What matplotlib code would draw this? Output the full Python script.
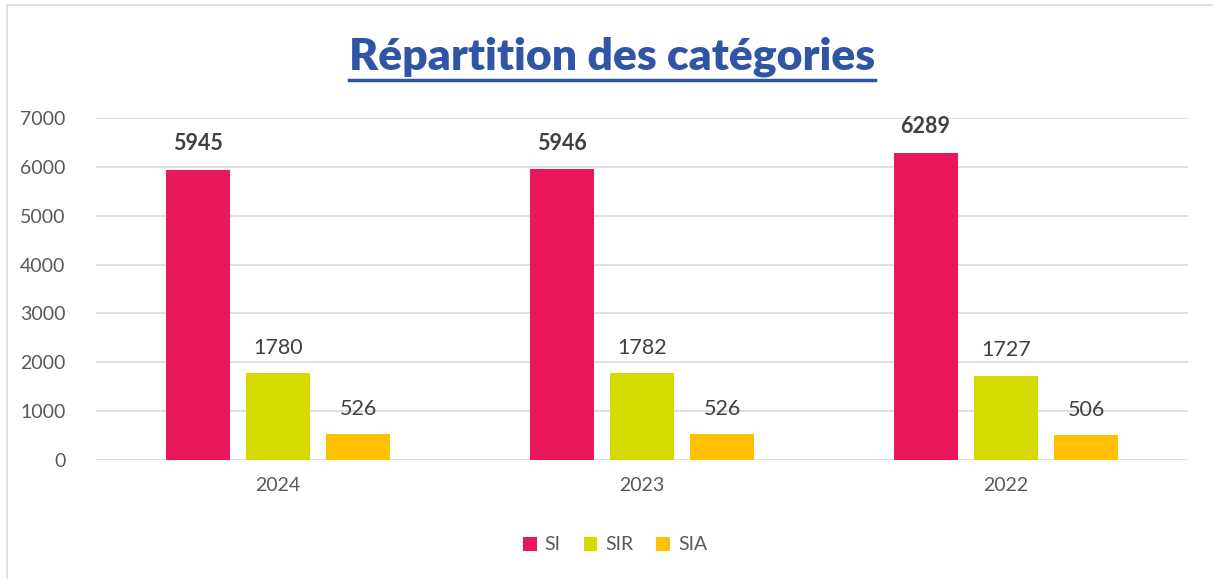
import matplotlib
matplotlib.use('Agg')
import matplotlib.pyplot as plt
from matplotlib.patches import Rectangle
from matplotlib.lines import Line2D
import numpy as np

# --- DATA ---
years = ['2024', '2023', '2022']
series_names = ['SI', 'SIR', 'SIA']
si_values = [5945, 5946, 6289]
sir_values = [1780, 1782, 1727]
sia_values = [526, 526, 506]
colors = ['#E8185A', '#D4DA00', '#FFC000']

plt.rcParams['font.family'] = ['Lato', 'DejaVu Sans']

W, H = 1213, 579
fig = plt.figure(figsize=(W / 100, H / 100), dpi=100)
ax = fig.add_axes([96 / W, 1 - 460 / H, (1188 - 96) / W, (460 - 118) / H])

x = np.arange(len(years))
width = 0.176
offset = 0.221
all_values = [si_values, sir_values, sia_values]
for i, (vals, name, col) in enumerate(zip(all_values, series_names, colors)):
    pos = x + (i - 1) * offset
    bars = ax.bar(pos, vals, width, color=col, label=name, zorder=3)
    for b, v in zip(bars, vals):
        ax.annotate(str(v), (b.get_x() + b.get_width() / 2, v),
                    xytext=(0, 11), textcoords='offset points',
                    ha='center', va='bottom', fontsize=15.5,
                    fontweight='bold' if i == 0 else 'normal',
                    color='#404040')

ax.set_xlim(-0.5, 2.5)
ax.set_ylim(0, 7000)
ax.set_yticks(range(0, 7001, 1000))
ax.set_xticks(x)
ax.set_xticklabels(years)
ax.yaxis.grid(True, color='#D9D9D9', linewidth=1.2, zorder=0)
for s in ax.spines.values():
    s.set_visible(False)
ax.tick_params(length=0, labelsize=14, colors='#595959')
ax.tick_params(axis='y', pad=22)
ax.tick_params(axis='x', pad=12)

# title with underline
title = fig.text(612 / W, 1 - 57 / H, 'Répartition des catégories', ha='center',
                 va='center', fontsize=32, fontweight='heavy', color='#2F55A4')
fig.canvas.draw()
bb = title.get_window_extent()
fig.add_artist(Line2D([bb.x0 / W, bb.x1 / W], [1 - 80 / H, 1 - 80 / H],
                      color='#2F55A4', linewidth=2.5))

# outer border
fig.add_artist(Rectangle((7 / W, -0.05), 1.1, 1 - 5 / H + 0.05, fill=False,
                         edgecolor='#D9D9D9', linewidth=1.2,
                         transform=fig.transFigure))

fig.legend(loc='center', bbox_to_anchor=(615 / W, 1 - 545 / H), ncol=3,
           frameon=False, fontsize=14, handlelength=0.7, handleheight=0.7,
           handletextpad=0.4, columnspacing=1.2, labelcolor='#595959')

fig.savefig('out.png', dpi=100)
